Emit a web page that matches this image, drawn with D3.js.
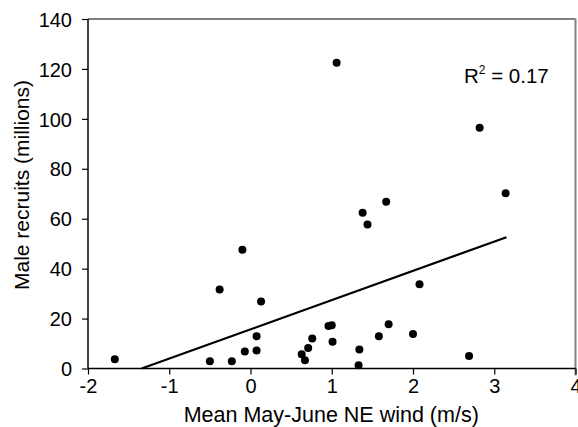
<!DOCTYPE html>
<html><head><meta charset="utf-8">
<script src="https://cdn.jsdelivr.net/npm/d3@7"></script>
<style>
body{margin:0;background:#fff;}
svg text{font-family:"Liberation Sans",Arial,Helvetica,sans-serif;fill:#000;}
</style></head>
<body><svg id="chart" width="578" height="427"></svg>
<script>
const windX = [-1.67,-0.50,-0.38,-0.10,-0.23,-0.07,0.075,0.075,0.13,0.63,0.67,0.71,0.76,0.96,1.00,1.01,1.38,1.44,1.67,1.34,1.33,1.58,1.70,2.00,2.08,2.69,3.14,1.06,2.82];
const recruitsY = [3.7,2.9,31.6,47.6,2.9,6.8,12.9,7.2,26.8,5.7,3.3,8.2,12.0,17.0,17.3,10.7,62.4,57.7,66.8,7.6,1.3,12.9,17.7,13.8,33.7,5.0,70.2,122.5,96.4];
const fitX = [-1.34, 3.15];
const fitY = [0, 52.6];
const xTicks = [-2,-1,0,1,2,3,4];
const yTicks = [0,20,40,60,80,100,120,140];
const rSquared = "0.17";

const svg = d3.select("#chart");
const L=88, R=575.5, T=19, B=368.5;
const x = d3.scaleLinear().domain([-2,4]).range([L,R]);
const y = d3.scaleLinear().domain([0,140]).range([B,T]);
const fmt = d => String(d); // plain hyphen-minus as in reference

// frame: top and right
svg.append("line").attr("x1",L).attr("x2",R).attr("y1",T).attr("y2",T).attr("stroke","#000").attr("stroke-width",1.2);
svg.append("line").attr("x1",R).attr("x2",R).attr("y1",T).attr("y2",B+7).attr("stroke","#808080").attr("stroke-width",2);

const xAxis = svg.append("g").attr("transform",`translate(0,${B})`)
  .call(d3.axisBottom(x).tickValues(xTicks).tickSize(6).tickPadding(4).tickFormat(fmt));
const yAxis = svg.append("g").attr("transform",`translate(${L},0)`)
  .call(d3.axisLeft(y).tickValues(yTicks).tickSize(6).tickPadding(10).tickFormat(fmt));
[xAxis,yAxis].forEach(g=>{
  g.select(".domain").attr("stroke","#000").attr("stroke-width",1.5);
  g.selectAll(".tick line").attr("stroke","#000").attr("stroke-width",1.2);
  g.selectAll(".tick text").attr("font-size",20).attr("fill","#000").attr("font-family","Liberation Sans, Arial, sans-serif");
});
yAxis.select(".domain").attr("d",`M0,${B}V${T}`);
xAxis.select(".domain").attr("d",`M${L},0H${R}`);
yAxis.selectAll(".tick text").attr("dy","0.36em");

// regression line
svg.append("line")
  .attr("x1",x(fitX[0])).attr("y1",y(fitY[0]))
  .attr("x2",x(fitX[1])).attr("y2",y(fitY[1]))
  .attr("stroke","#000").attr("stroke-width",2.2);

// points
svg.append("g").selectAll("circle").data(windX.map((v,i)=>[v,recruitsY[i]]))
  .join("circle").attr("cx",d=>x(d[0])).attr("cy",d=>y(d[1])).attr("r",4).attr("fill","#000");

// R2 label
const rt = svg.append("text").attr("x",464).attr("y",83).attr("font-size",20.5);
rt.append("tspan").text("R");
rt.append("tspan").attr("font-size",12).attr("dy",-9).text("2");
rt.append("tspan").attr("dy",9).text(" = " + rSquared);

// axis titles
svg.append("text").attr("x",(L+R)/2 - 0.5).attr("y",422).attr("text-anchor","middle").attr("font-size",21.5)
  .text("Mean May-June NE wind (m/s)");
svg.append("text").attr("transform",`translate(29,185) rotate(-90)`).attr("text-anchor","middle").attr("font-size",21)
  .text("Male recruits (millions)");
</script></body></html>
